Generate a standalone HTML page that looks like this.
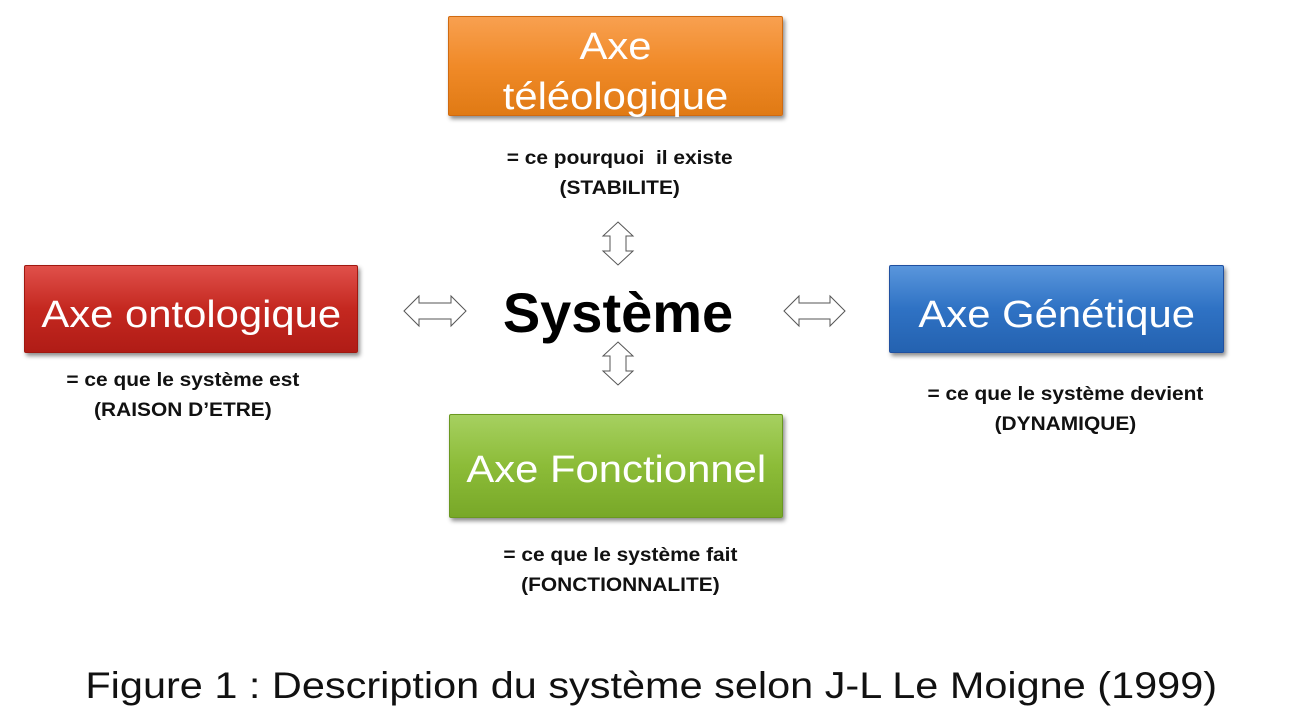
<!DOCTYPE html>
<html><head><meta charset="utf-8"><style>
body{margin:0;width:1303px;height:727px;background:#fff;position:relative;overflow:hidden;font-family:"Liberation Sans",sans-serif}
.box{position:absolute;box-sizing:border-box;color:#fff;display:flex;align-items:center;justify-content:center;text-align:center;font-size:38px;line-height:50px;box-shadow:2px 3px 4px rgba(0,0,0,.45);border-radius:2px}
.box span{display:inline-block;transform:scaleX(1.1)}
.lbl{position:absolute;font-weight:bold;font-size:19px;line-height:30px;text-align:center;color:#111}
.lbl span{display:inline-block;transform:scaleX(1.1)}
</style></head><body>
<div class="box" style="left:448px;top:16px;width:335px;height:100px;padding-top:12px;background:linear-gradient(#f8a050,#f08a28 50%,#e07a14);border:1px solid #d06a10"><span>Axe<br>téléologique</span></div>
<div class="box" style="left:24px;top:265px;width:334px;height:88px;padding-top:12px;background:linear-gradient(#e0504a,#c42820 50%,#b01c16);border:1px solid #a01810"><span>Axe ontologique</span></div>
<div class="box" style="left:889px;top:265px;width:335px;height:88px;padding-top:12px;background:linear-gradient(#5a96dc,#2f72c4 50%,#2462b0);border:1px solid #2050a0"><span>Axe Génétique</span></div>
<div class="box" style="left:449px;top:414px;width:334px;height:104px;padding-top:8px;background:linear-gradient(#a6d060,#8cbc38 50%,#78a828);border:1px solid #6a9820"><span>Axe Fonctionnel</span></div>
<div class="lbl" style="left:420px;top:144px;width:400px"><span>= ce pourquoi &nbsp;il existe<br>(STABILITE)</span></div>
<div class="lbl" style="left:0px;top:366px;width:366px"><span>= ce que le système est<br>(RAISON D’ETRE)</span></div>
<div class="lbl" style="left:830px;top:380px;width:470px"><span>= ce que le système devient<br>(DYNAMIQUE)</span></div>
<div class="lbl" style="left:420px;top:541px;width:400px"><span>= ce que le système fait<br>(FONCTIONNALITE)</span></div>
<div style="position:absolute;left:488px;top:280px;width:260px;text-align:center;font-weight:bold;font-size:56px;line-height:66px">Système</div>
<svg width="1303" height="727" style="position:absolute;left:0;top:0" fill="#fff" stroke="#555" stroke-width="1">
<polygon points="404,311 419,296 419,303 451,303 451,296 466,311 451,326 451,319 419,319 419,326"/>
<polygon points="784,311 799,296 799,303 830,303 830,296 845,311 830,326 830,319 799,319 799,326"/>
<polygon points="618,222 633,236 626,236 626,251 633,251 618,265 603,251 610,251 610,236 603,236"/>
<polygon points="618,342 633,356 626,356 626,371 633,371 618,385 603,371 610,371 610,356 603,356"/>
</svg>
<div style="position:absolute;left:0;top:663px;width:1303px;text-align:center;font-size:37px;line-height:46px;color:#111"><span style="display:inline-block;transform:scaleX(1.12)">Figure 1 : Description du système selon J-L Le Moigne (1999)</span></div>
</body></html>
